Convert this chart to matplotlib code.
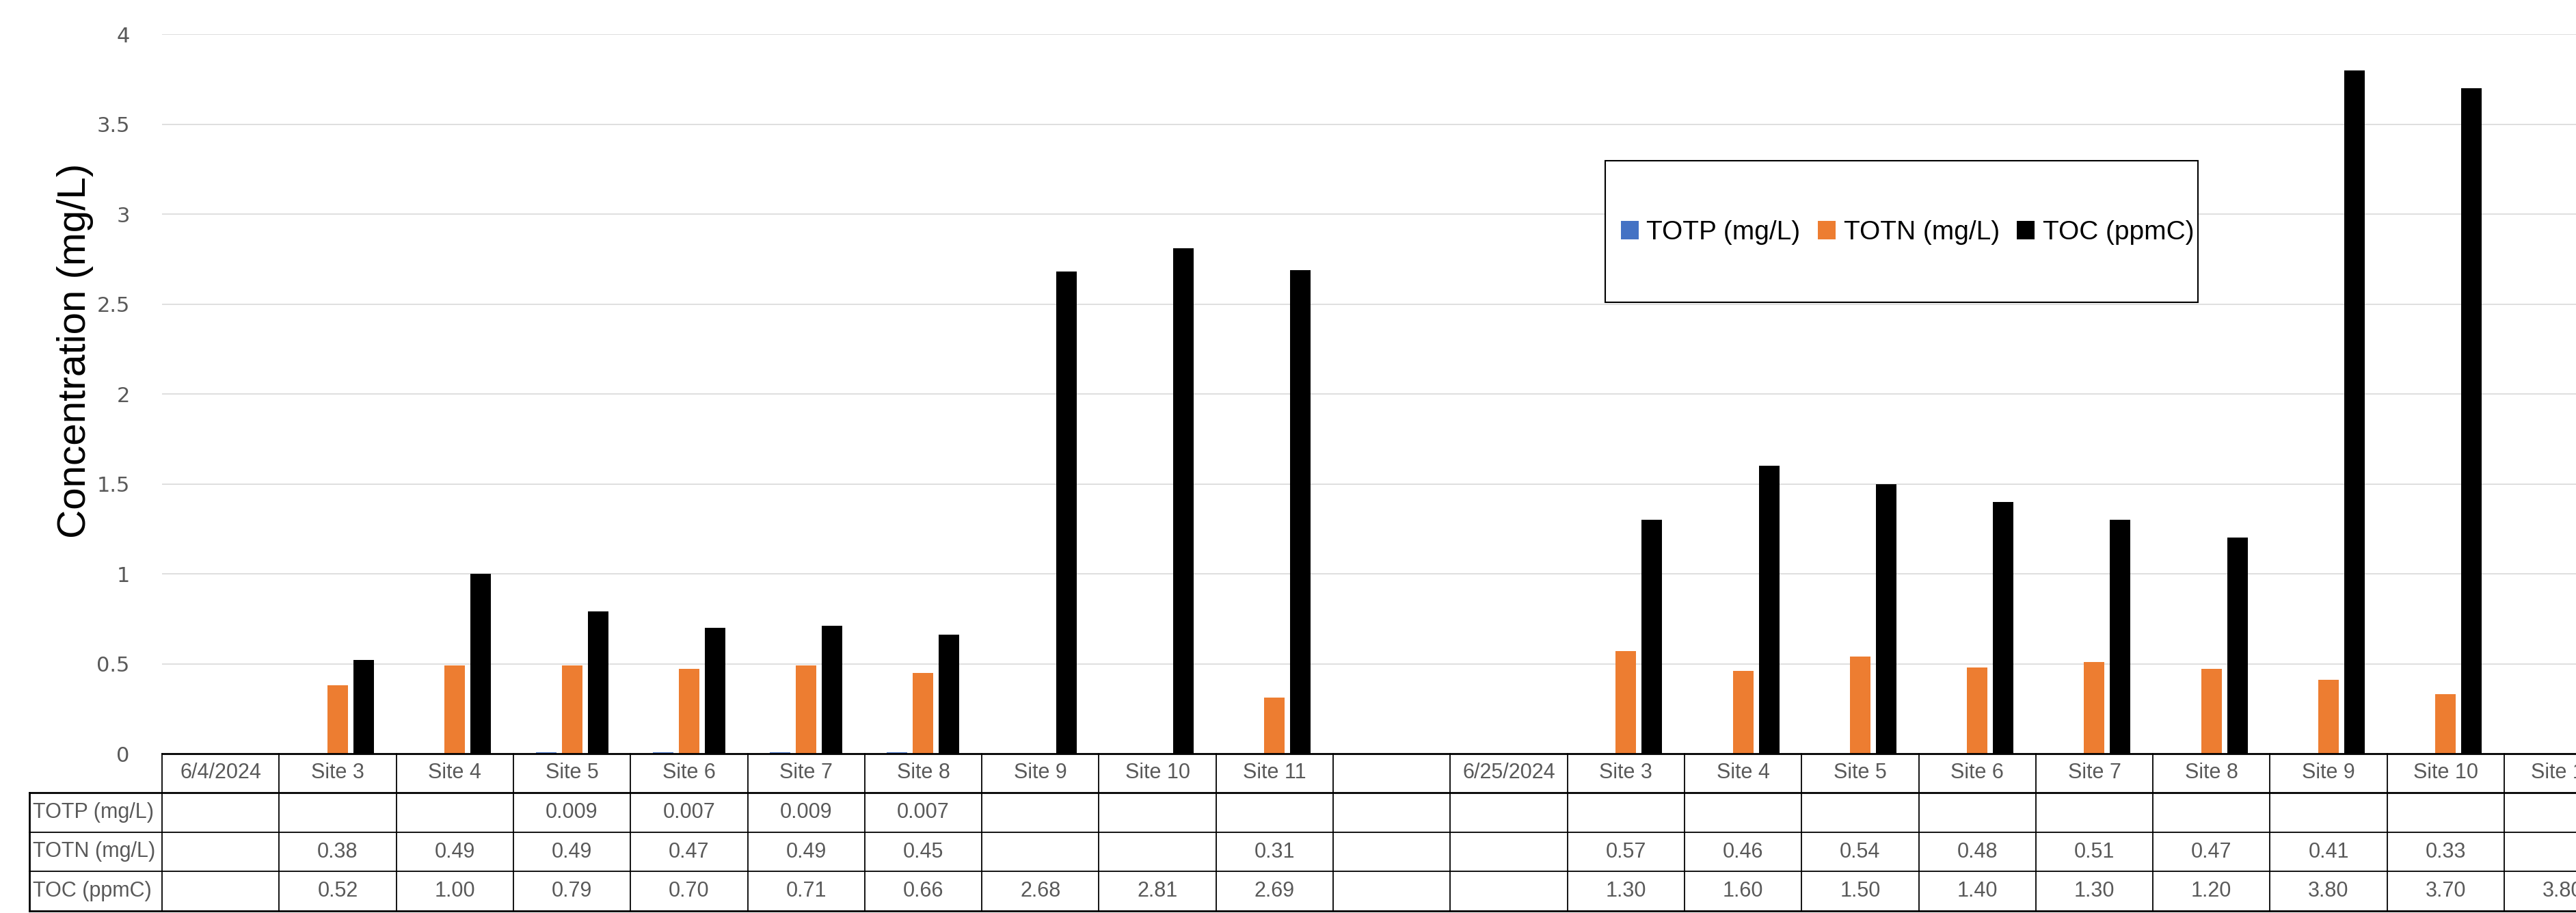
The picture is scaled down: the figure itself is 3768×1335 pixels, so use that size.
import numpy as np
import matplotlib.pyplot as plt
from matplotlib import transforms
from matplotlib.patches import Rectangle, Patch

categories = ['6/4/2024', 'Site 3', 'Site 4', 'Site 5', 'Site 6', 'Site 7', 'Site 8',
              'Site 9', 'Site 10', 'Site 11', '',
              '6/25/2024', 'Site 3', 'Site 4', 'Site 5', 'Site 6', 'Site 7', 'Site 8',
              'Site 9', 'Site 10', 'Site 11']
nan = np.nan
totp = [nan, nan, nan, 0.009, 0.007, 0.009, 0.007, nan, nan, nan, nan,
        nan, nan, nan, nan, nan, nan, nan, nan, nan, nan]
totn = [nan, 0.38, 0.49, 0.49, 0.47, 0.49, 0.45, nan, nan, 0.31, nan,
        nan, 0.57, 0.46, 0.54, 0.48, 0.51, 0.47, 0.41, 0.33, nan]
toc = [nan, 0.52, 1.00, 0.79, 0.70, 0.71, 0.66, 2.68, 2.81, 2.69, nan,
       nan, 1.30, 1.60, 1.50, 1.40, 1.30, 1.20, 3.80, 3.70, 3.80]
series_names = ['TOTP (mg/L)', 'TOTN (mg/L)', 'TOC (ppmC)']
series_fmt = ['{:.3f}', '{:.2f}', '{:.2f}']
colors = ['#4472C4', '#ED7D31', '#000000']

W, H = 3768, 1335
fig = plt.figure(figsize=(W / 100, H / 100), dpi=100)

# plot area in pixels (runs past the right edge, as in the reference)
px_left, px_top, px_bottom = 237, 50, 1102
col_w = 171.3
n = len(categories)
px_right = px_left + n * col_w
ax = fig.add_axes([px_left / W, 1 - px_bottom / H, (px_right - px_left) / W, (px_bottom - px_top) / H])

x = np.arange(n)
offs = [-0.222, 0.0, 0.222]
for vals, off, c, name in zip([totp, totn, toc], offs, colors, series_names):
    v = np.array(vals, dtype=float)
    m = ~np.isnan(v)
    ax.bar(x[m] + off, v[m], width=0.175, color=c, zorder=3, label=name)

ax.set_xlim(-0.5, n - 0.5)
ax.set_ylim(0, 4)
ax.set_yticks(np.arange(0, 4.01, 0.5))
ax.set_yticklabels(['0', '0.5', '1', '1.5', '2', '2.5', '3', '3.5', '4'])
ax.tick_params(axis='y', length=0, pad=34, labelsize=22, labelcolor='#595959')
ax.set_xticks([])
ax.grid(axis='y', color='#d9d9d9', linewidth=1.2, zorder=0)
for s in ax.spines.values():
    s.set_visible(False)

fig.text(110 / W, 1 - 513 / H, 'Concentration (mg/L)', rotation=90, ha='center', va='center',
         fontsize=42, family='Liberation Sans', color='black')

# data table under the axis
tr = transforms.blended_transform_factory(ax.transData, fig.transFigure)
rows_px = [1102, 1159, 1217, 1274, 1332]
fy = [1 - p / H for p in rows_px]
x_lab = -0.5 - (px_left - 43) / col_w
xr = n - 0.5
lw_thin, lw_thick = 1.3, 2.0

ax.plot([-0.5, xr], [fy[0], fy[0]], color='black', lw=lw_thick, transform=tr, clip_on=False, zorder=5)
ax.plot([x_lab, xr], [fy[1], fy[1]], color='black', lw=lw_thick, transform=tr, clip_on=False, zorder=5)
ax.plot([x_lab, xr], [fy[2], fy[2]], color='black', lw=lw_thin, transform=tr, clip_on=False, zorder=5)
ax.plot([x_lab, xr], [fy[3], fy[3]], color='black', lw=lw_thin, transform=tr, clip_on=False, zorder=5)
ax.plot([x_lab, xr], [fy[4], fy[4]], color='black', lw=lw_thick, transform=tr, clip_on=False, zorder=5)
for k in range(n + 1):
    ax.plot([k - 0.5, k - 0.5], [fy[0], fy[4]], color='black', lw=lw_thin, transform=tr, clip_on=False)
ax.plot([x_lab, x_lab], [fy[1], fy[4]], color='black', lw=lw_thick, transform=tr, clip_on=False)

txt_kw = dict(transform=tr, fontsize=22, family='Liberation Sans', color='#595959', va='center', clip_on=False)
for i, cat in enumerate(categories):
    ax.text(i, (fy[0] + fy[1]) / 2, cat, ha='center', **txt_kw)
for r, (vals, name, fmt) in enumerate(zip([totp, totn, toc], series_names, series_fmt)):
    yc = (fy[r + 1] + fy[r + 2]) / 2
    ax.text(x_lab + 5 / col_w, yc, name, ha='left', **txt_kw)
    for i, v in enumerate(vals):
        if not np.isnan(v):
            ax.text(i, yc, fmt.format(v), ha='center', **txt_kw)

# legend box
box = Rectangle((2348 / W, 1 - 442 / H), (3215 - 2348) / W, (442 - 235) / H,
                transform=fig.transFigure, facecolor='white', edgecolor='black', lw=1.5, zorder=6)
fig.add_artist(box)
handles = [Patch(facecolor=c, edgecolor='none') for c in colors]
leg = fig.legend(handles, series_names, loc='center', bbox_to_anchor=(2790 / W, 1 - 340 / H),
                 ncol=3, frameon=False, handlelength=0.67, handleheight=0.72,
                 handletextpad=0.3, columnspacing=0.65, prop={'family': 'Liberation Sans', 'size': 28})
leg.set_zorder(7)

fig.savefig('out.png', dpi=100)
